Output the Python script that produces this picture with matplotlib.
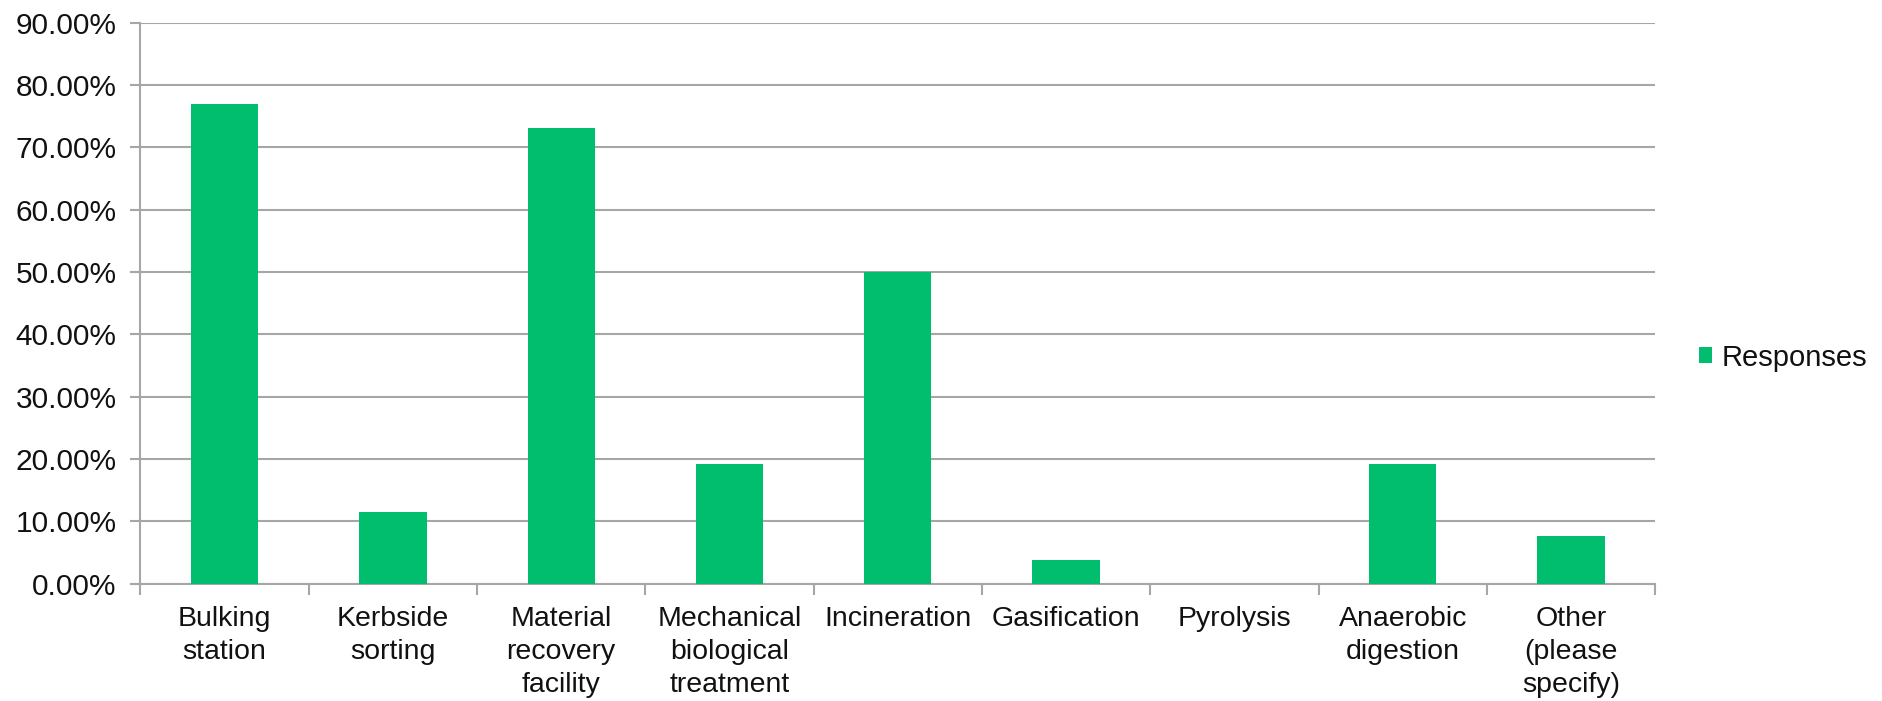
import matplotlib.pyplot as plt
from matplotlib.ticker import FixedLocator, PercentFormatter

# Data
categories = [
    "Bulking\nstation",
    "Kerbside\nsorting",
    "Material\nrecovery\nfacility",
    "Mechanical\nbiological\ntreatment",
    "Incineration",
    "Gasification",
    "Pyrolysis",
    "Anaerobic\ndigestion",
    "Other\n(please\nspecify)",
]
responses = [76.92, 11.54, 73.08, 19.23, 50.00, 3.85, 0.00, 19.23, 7.69]
y_ticks = [0, 10, 20, 30, 40, 50, 60, 70, 80, 90]

green = "#00BE6E"
grid_grey = "#A6A6A6"

plt.rcParams["font.family"] = ["Liberation Sans", "DejaVu Sans"]

fig = plt.figure(figsize=(18.83, 7.01), dpi=100)
ax = fig.add_axes([0.0746, 0.1675, 0.8044, 0.8])

x = list(range(len(categories)))
ax.bar(x, responses, width=0.4, color=green, label="Responses", zorder=3)

ax.set_xlim(-0.5, len(categories) - 0.5)
ax.set_ylim(0, 90)
ax.set_yticks(y_ticks)
ax.yaxis.set_major_formatter(PercentFormatter(decimals=2))
ax.grid(axis="y", color=grid_grey, linewidth=1.5, zorder=0)

# category labels centred, tick marks between categories
ax.set_xticks(x)
ax.set_xticklabels(categories, fontsize=20.5, linespacing=1.35, color="#111111")
ax.tick_params(axis="x", which="major", length=0, pad=16)
ax.xaxis.set_minor_locator(FixedLocator([i - 0.5 for i in range(len(categories) + 1)]))
ax.tick_params(axis="x", which="minor", length=8, width=1.5, color=grid_grey)
ax.tick_params(axis="y", labelsize=21.5, labelcolor="#111111", length=7, width=1.5,
               color=grid_grey, pad=10)

for side in ["top", "right"]:
    ax.spines[side].set_visible(False)
for side in ["left", "bottom"]:
    ax.spines[side].set_color(grid_grey)
    ax.spines[side].set_linewidth(1.5)

leg = fig.legend(loc="center left", bbox_to_anchor=(0.8885, 0.49), frameon=False,
                 fontsize=21, handlelength=0.45, handleheight=0.45, handletextpad=0.3)
for t in leg.get_texts():
    t.set_color("#111111")

fig.savefig("out.png", dpi=100)
